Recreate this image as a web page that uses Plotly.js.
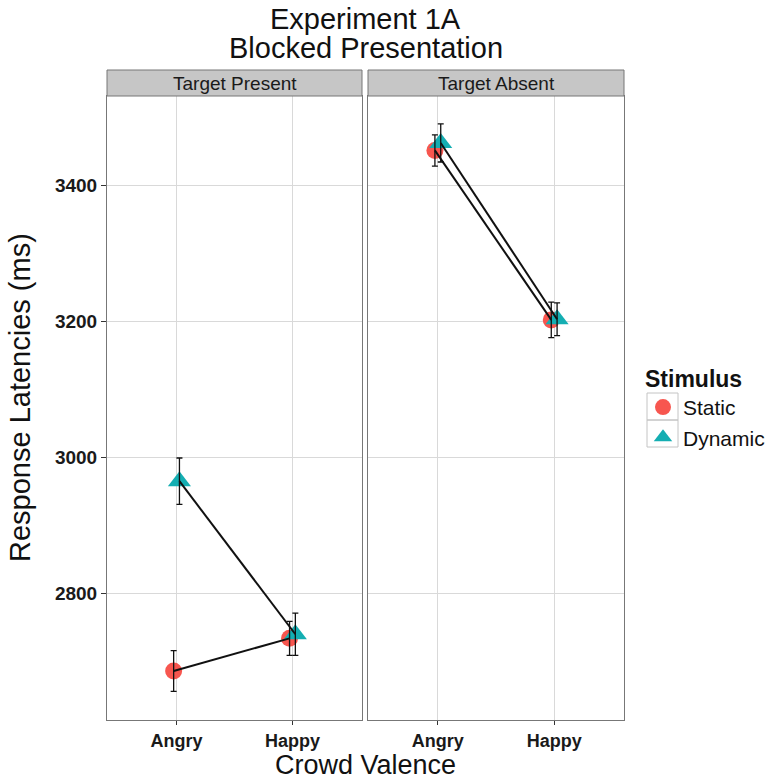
<!DOCTYPE html>
<html>
<head>
<meta charset="utf-8">
<script src="https://cdn.plot.ly/plotly-3.0.1.min.js"></script>
<style>html,body{margin:0;padding:0;background:#fff;}#chart{width:767px;height:781px;}</style>
</head>
<body>
<div id="chart"></div>
<script>
// ---- data ----
const categories = ['Angry', 'Happy'];
const panels = ['Target Present', 'Target Absent'];
const seriesNames = ['Static', 'Dynamic'];

const presentStatic = [2686, 2734];
const presentStaticErr = [30, 25];
const presentDynamic = [2965, 2740];
const presentDynamicErr = [34, 31];

const absentStatic = [3451, 3202];
const absentStaticErr = [23, 26];
const absentDynamic = [3462, 3203];
const absentDynamicErr = [28, 24];

const yTicks = [2800, 3000, 3200, 3400];

// ---- styling ----
const colStatic = '#F7564F';
const colDynamic = '#14AEB2';
const FONT = 'Liberation Sans, Arial, sans-serif';
const dodge = 0.025;
const catX = categories.map((c, i) => i + 1);

function markerTrace(name, vals, xa, ya, color, symbol, size, showlegend) {
  return {
    type: 'scatter', mode: 'markers', name: name,
    x: catX.map(v => v + (name === 'Static' ? -dodge : dodge)), y: vals,
    xaxis: xa, yaxis: ya,
    marker: {color: color, symbol: symbol, size: size, line: {width: 0}},
    showlegend: showlegend, legendgroup: name, hoverinfo: 'skip'
  };
}
function lineTrace(name, vals, errs, xa, ya) {
  return {
    type: 'scatter', mode: 'lines', name: name,
    x: catX.map(v => v + (name === 'Static' ? -dodge : dodge)), y: vals,
    xaxis: xa, yaxis: ya,
    line: {color: '#111', width: 2},
    error_y: {type: 'data', array: errs, visible: true, color: '#111', thickness: 1.3, width: 3},
    showlegend: false, hoverinfo: 'skip'
  };
}

const data = [
  markerTrace('Static', presentStatic, 'x', 'y', colStatic, 'circle', 17, true),
  markerTrace('Dynamic', presentDynamic, 'x', 'y', colDynamic, 'triangle-up', 20, true),
  markerTrace('Static', absentStatic, 'x2', 'y2', colStatic, 'circle', 17, false),
  markerTrace('Dynamic', absentDynamic, 'x2', 'y2', colDynamic, 'triangle-up', 20, false),
  lineTrace('Static', presentStatic, presentStaticErr, 'x', 'y'),
  lineTrace('Dynamic', presentDynamic, presentDynamicErr, 'x', 'y'),
  lineTrace('Static', absentStatic, absentStaticErr, 'x2', 'y2'),
  lineTrace('Dynamic', absentDynamic, absentDynamicErr, 'x2', 'y2')
];

const PW = 517, PH = 650;          // plot area size in px
const px = v => (v - 107) / PW;     // page px -> paper x
const py = v => (720 - v) / PH;     // page px -> paper y
const leftDom = [0, 255 / PW];
const rightDom = [261 / PW, 1];
const yTop = 624 / PH;

function xAxis(dom) {
  return {
    domain: dom, range: [0.4, 2.6], tickvals: catX, ticktext: categories,
    showgrid: true, gridcolor: '#d9d9d9', gridwidth: 1, zeroline: false,
    showline: true, linecolor: '#777', linewidth: 1, mirror: true,
    ticks: 'outside', ticklen: 4, tickcolor: '#333', tickwidth: 1,
    tickfont: {family: FONT, size: 18, color: '#1a1a1a', weight: 'bold'}
  };
}
function keyBox(top, bottom) {
  return {type: 'rect', xref: 'paper', yref: 'paper', x0: px(647), x1: px(678), y0: py(bottom), y1: py(top),
          fillcolor: 'rgba(0,0,0,0)', line: {color: '#c4c4c4', width: 1}, layer: 'below'};
}
const layout = {
  width: 767, height: 781,
  margin: {l: 107, r: 143, t: 70, b: 61, autoexpand: false},
  paper_bgcolor: '#fff', plot_bgcolor: '#fff',
  font: {family: FONT, color: '#111'},
  xaxis: xAxis(leftDom),
  xaxis2: Object.assign(xAxis(rightDom), {anchor: 'y2'}),
  yaxis: {
    domain: [0, yTop], range: [2614, 3531], tickvals: yTicks,
    showgrid: true, gridcolor: '#d9d9d9', zeroline: false,
    showline: true, linecolor: '#777', linewidth: 1, mirror: true,
    ticks: 'outside', ticklen: 5, tickcolor: '#333',
    tickfont: {family: FONT, size: 19, color: '#1a1a1a', weight: 'bold'}
  },
  yaxis2: {
    domain: [0, yTop], matches: 'y', anchor: 'x2', tickvals: yTicks,
    showgrid: true, gridcolor: '#d9d9d9', zeroline: false,
    showline: true, linecolor: '#777', linewidth: 1, mirror: true,
    showticklabels: false, ticks: ''
  },
  showlegend: true,
  legend: {
    x: px(643), xanchor: 'left', y: py(357), yanchor: 'top',
    bgcolor: 'rgba(0,0,0,0)', tracegroupgap: 0,
    title: {text: '<b>Stimulus</b>', font: {family: FONT, size: 23, color: '#111'}},
    font: {family: FONT, size: 21, color: '#111'},
    itemwidth: 30
  },
  shapes: [
    {type: 'rect', xref: 'paper', yref: 'paper', x0: leftDom[0], x1: leftDom[1], y0: yTop, y1: 1,
     fillcolor: '#c6c6c6', line: {color: '#777', width: 1}},
    {type: 'rect', xref: 'paper', yref: 'paper', x0: rightDom[0], x1: rightDom[1], y0: yTop, y1: 1,
     fillcolor: '#c6c6c6', line: {color: '#777', width: 1}},
    keyBox(393, 420),
    keyBox(420, 447)
  ],
  annotations: [
    {text: panels[0], xref: 'paper', yref: 'paper', x: (leftDom[0] + leftDom[1]) / 2, y: (yTop + 1) / 2,
     showarrow: false, font: {family: FONT, size: 19, color: '#1a1a1a'}, xanchor: 'center', yanchor: 'middle'},
    {text: panels[1], xref: 'paper', yref: 'paper', x: (rightDom[0] + rightDom[1]) / 2, y: (yTop + 1) / 2,
     showarrow: false, font: {family: FONT, size: 19, color: '#1a1a1a'}, xanchor: 'center', yanchor: 'middle'},
    {text: 'Experiment 1A', xref: 'paper', yref: 'paper', x: 0.5, y: py(19),
     showarrow: false, font: {family: FONT, size: 29, color: '#111'}, xanchor: 'center', yanchor: 'middle'},
    {text: 'Blocked Presentation', xref: 'paper', yref: 'paper', x: 0.5, y: py(48),
     showarrow: false, font: {family: FONT, size: 29, color: '#111'}, xanchor: 'center', yanchor: 'middle'},
    {text: 'Crowd Valence', xref: 'paper', yref: 'paper', x: 0.5, y: py(765),
     showarrow: false, font: {family: FONT, size: 27, color: '#111'}, xanchor: 'center', yanchor: 'middle'},
    {text: 'Response Latencies (ms)', xref: 'paper', yref: 'paper', x: px(20), y: py(398),
     textangle: -90, showarrow: false, font: {family: FONT, size: 29, color: '#111'},
     xanchor: 'center', yanchor: 'middle'}
  ]
};

Plotly.newPlot('chart', data, layout, {staticPlot: true, displayModeBar: false});
</script>
</body>
</html>
